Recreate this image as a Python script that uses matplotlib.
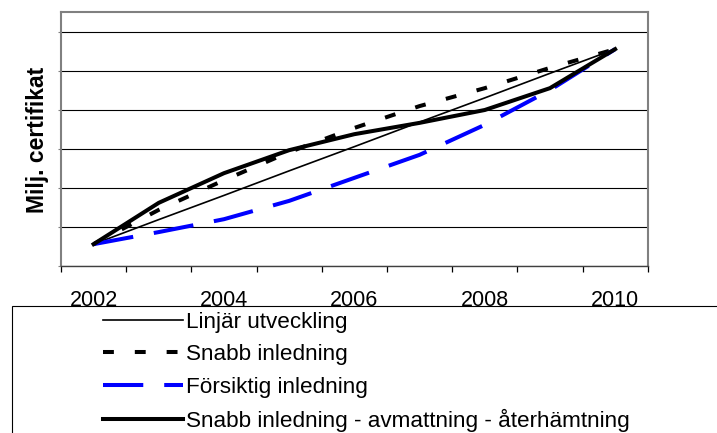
import numpy as np
import matplotlib
matplotlib.use('Agg')
import matplotlib.pyplot as plt
from matplotlib.patches import Rectangle

plt.rcParams['font.family'] = ['Liberation Sans', 'DejaVu Sans']

# Data (y in gridline units, gridlines at 1..6)
years = ['2002', '2003', '2004', '2005', '2006', '2007', '2008', '2009', '2010']
linjar = [0.56, 1.19, 1.81, 2.44, 3.06, 3.69, 4.31, 4.94, 5.56]
snabb = [0.56, 1.44, 2.20, 2.92, 3.54, 4.10, 4.56, 5.08, 5.56]
forsiktig = [0.56, 0.87, 1.20, 1.67, 2.26, 2.85, 3.62, 4.51, 5.56]
avmattning = [0.56, 1.62, 2.38, 2.97, 3.38, 3.67, 4.00, 4.56, 5.56]

labels = ['Linjär utveckling', 'Snabb inledning', 'Försiktig inledning',
          'Snabb inledning - avmattning - återhämtning']

W, H = 717, 433
fig = plt.figure(figsize=(W / 100, H / 100), dpi=100)
ax = fig.add_axes([61 / W, 1 - 266 / H, 586.7 / W, 254 / H])

x = np.arange(len(years))
l1, = ax.plot(x, linjar, color='black', lw=1.2)
l2, = ax.plot(x, snabb, color='black', lw=2.9, dashes=(2.7, 5.2))
l3, = ax.plot(x, forsiktig, color='#0000ff', lw=2.9, dashes=(10.0, 5.2))
l4, = ax.plot(x, avmattning, color='black', lw=2.9)

ax.set_xlim(-0.5, len(years) - 0.5)
ax.set_ylim(0, 6.513)

# gridlines
ax.set_yticks(range(0, 7))
ax.set_yticklabels([])
ax.yaxis.grid(True, color='black', lw=0.8)
ax.tick_params(axis='y', length=2, color='#808080')

# category axis: ticks between categories, labels every second year
ax.set_xticks(np.arange(-0.5, len(years)))
ax.set_xticklabels([])
ax.set_xticks(x[::2], minor=True)
ax.set_xticklabels(years[::2], minor=True, fontsize=15.5)
ax.tick_params(axis='x', which='major', length=4.5, direction='out', color='black', width=0.9)
ax.tick_params(axis='x', which='minor', length=0, pad=17.5)

for s in ['left', 'top', 'right']:
    ax.spines[s].set_color('#808080')
    ax.spines[s].set_linewidth(1.5)
ax.spines['bottom'].set_color('#404040')
ax.spines['bottom'].set_linewidth(1.0)

fig.text(38 / W, 1 - 140 / H, 'Milj. certifikat', rotation=90, ha='center', va='center',
         fontsize=16.5, fontweight='bold')

# legend box running off the figure edge
fig.patches.append(Rectangle((11.7 / W, -0.1), 1.0, (H - 306) / H + 0.1,
                             transform=fig.transFigure, fill=False,
                             edgecolor='black', lw=0.8, zorder=5))

fig.legend([l1, l2, l3, l4], labels, loc='upper left',
           bbox_to_anchor=(103 / W, 1 - 312 / H), bbox_transform=fig.transFigure,
           frameon=False, fontsize=16.2, handlelength=3.55, handletextpad=0.13,
           labelspacing=0.5, borderpad=0, borderaxespad=0)

fig.savefig('out.png', dpi=100)
